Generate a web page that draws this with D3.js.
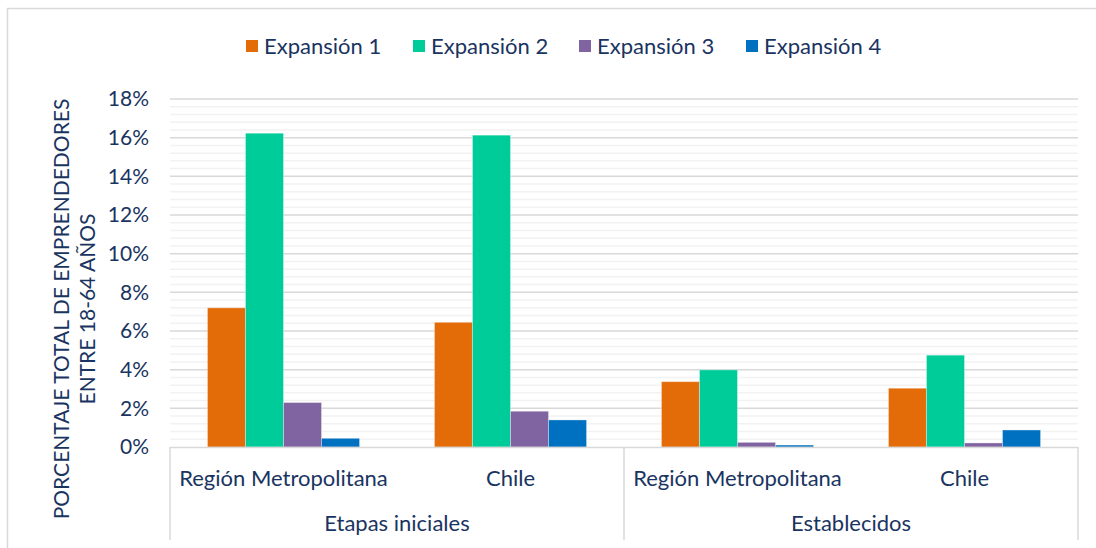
<!DOCTYPE html>
<html>
<head>
<meta charset="utf-8">
<script src="https://cdn.jsdelivr.net/npm/d3@7"></script>
<style>
  body { margin: 0; background: #fff; }
  text { font-family: Lato, "Open Sans", sans-serif; fill: #1a3461; }
</style>
</head>
<body>
<div id="chart"></div>
<script>
var width = 1096, height = 548;

// data
var groups = ["Etapas iniciales", "Establecidos"];
var regions = ["Región Metropolitana", "Chile"];
var series = ["Expansión 1", "Expansión 2", "Expansión 3", "Expansión 4"];
var colors = ["#e36c09", "#00cc99", "#8064a2", "#0070c0"];
var exp1 = [7.2, 6.45, 3.38, 3.04];
var exp2 = [16.23, 16.13, 3.99, 4.75];
var exp3 = [2.3, 1.85, 0.24, 0.21];
var exp4 = [0.45, 1.4, 0.1, 0.88];
var yTicks = [0, 2, 4, 6, 8, 10, 12, 14, 16, 18];

var values = [exp1, exp2, exp3, exp4];
var cats = [];
groups.forEach(function(g) {
  regions.forEach(function(r) { cats.push(g + "|" + r); });
});

var plot = {left: 170, right: 1078, top: 99, bottom: 447};

var x0 = d3.scaleBand()
  .domain(cats)
  .range([plot.left, plot.right])
  .paddingInner(0.33)
  .paddingOuter(0.165);

var x1 = d3.scaleBand()
  .domain(series)
  .range([0, x0.bandwidth()]);

var y = d3.scaleLinear()
  .domain([0, 18])
  .range([plot.bottom, plot.top]);

var svg = d3.select("#chart").append("svg")
  .attr("width", width)
  .attr("height", height);

// outer frame (left and top edges are visible)
svg.append("path")
  .attr("d", "M7.5,548V8.5H1096")
  .attr("fill", "none")
  .attr("stroke", "#d9d9d9")
  .attr("stroke-width", 1.5);

// minor grid
var minor = d3.range(0, 18.01, 0.4).filter(function(v) {
  return Math.abs(v / 2 - Math.round(v / 2)) > 0.01;
});
svg.selectAll("line.minor")
  .data(minor).enter()
  .append("line")
  .attr("x1", plot.left).attr("x2", plot.right)
  .attr("y1", function(d) { return y(d); })
  .attr("y2", function(d) { return y(d); })
  .attr("stroke", "#f2f2f2")
  .attr("stroke-width", 1.5);

// major grid
svg.selectAll("line.major")
  .data(yTicks.slice(1)).enter()
  .append("line")
  .attr("x1", plot.left).attr("x2", plot.right)
  .attr("y1", function(d) { return y(d); })
  .attr("y2", function(d) { return y(d); })
  .attr("stroke", "#d9d9d9")
  .attr("stroke-width", 1.5);

// y tick labels
svg.selectAll("text.ytick")
  .data(yTicks).enter()
  .append("text")
  .attr("x", 149)
  .attr("y", function(d) { return y(d); })
  .attr("dy", "0.35em")
  .attr("text-anchor", "end")
  .style("font-size", "21px")
  .text(function(d) { return d + "%"; });

// bars
var catG = svg.selectAll("g.cat")
  .data(cats).enter()
  .append("g")
  .attr("transform", function(d) { return "translate(" + x0(d) + ",0)"; });

catG.selectAll("rect")
  .data(function(d, ci) {
    return series.map(function(s, si) { return {s: s, si: si, v: values[si][ci]}; });
  }).enter()
  .append("rect")
  .attr("x", function(d) { return x1(d.s); })
  .attr("y", function(d) { return y(d.v); })
  .attr("width", x1.bandwidth())
  .attr("height", function(d) { return plot.bottom - y(d.v); })
  .attr("fill", function(d) { return colors[d.si]; })
  .attr("stroke", "#ffffff")
  .attr("stroke-opacity", 0.35)
  .attr("stroke-width", 1);

// category axis box
var boxBottom = 540;
var mid = (plot.left + plot.right) / 2;
svg.append("line")
  .attr("x1", plot.left).attr("x2", plot.right)
  .attr("y1", plot.bottom + 0.5).attr("y2", plot.bottom + 0.5)
  .attr("stroke", "#d9d9d9").attr("stroke-width", 1.5);
svg.selectAll("line.sep")
  .data([plot.left, mid, plot.right]).enter()
  .append("line")
  .attr("x1", function(d) { return d; })
  .attr("x2", function(d) { return d; })
  .attr("y1", plot.bottom)
  .attr("y2", boxBottom)
  .attr("stroke", "#d9d9d9").attr("stroke-width", 1.5);

svg.selectAll("text.cat")
  .data(cats).enter()
  .append("text")
  .attr("x", function(d) { return x0(d) + x0.bandwidth() / 2; })
  .attr("y", 486)
  .attr("text-anchor", "middle")
  .style("font-size", "22px")
  .text(function(d) { return d.split("|")[1]; });

svg.selectAll("text.group")
  .data(groups).enter()
  .append("text")
  .attr("x", function(d, i) {
    return (x0(d + "|" + regions[0]) + x0(d + "|" + regions[1]) + x0.bandwidth()) / 2;
  })
  .attr("y", 531)
  .attr("text-anchor", "middle")
  .style("font-size", "22px")
  .text(function(d) { return d; });

// y axis title
var yTitle = svg.append("text")
  .attr("transform", "translate(69,309) rotate(-90)")
  .attr("text-anchor", "middle")
  .style("font-size", "21px");
yTitle.append("tspan").attr("x", 0).attr("y", 0).text("PORCENTAJE TOTAL DE EMPRENDEDORES");
yTitle.append("tspan").attr("x", 0).attr("y", 26).text("ENTRE 18-64 AÑOS");

// legend
var legendX = [246, 413, 579, 746];
var legend = svg.selectAll("g.legend")
  .data(series).enter()
  .append("g")
  .attr("transform", function(d, i) { return "translate(" + legendX[i] + ",40)"; });
legend.append("rect")
  .attr("width", 12).attr("height", 12)
  .attr("fill", function(d, i) { return colors[i]; });
legend.append("text")
  .attr("x", 18).attr("y", 6)
  .attr("dy", "0.35em")
  .style("font-size", "22px")
  .text(function(d) { return d; });
</script>
</body>
</html>
